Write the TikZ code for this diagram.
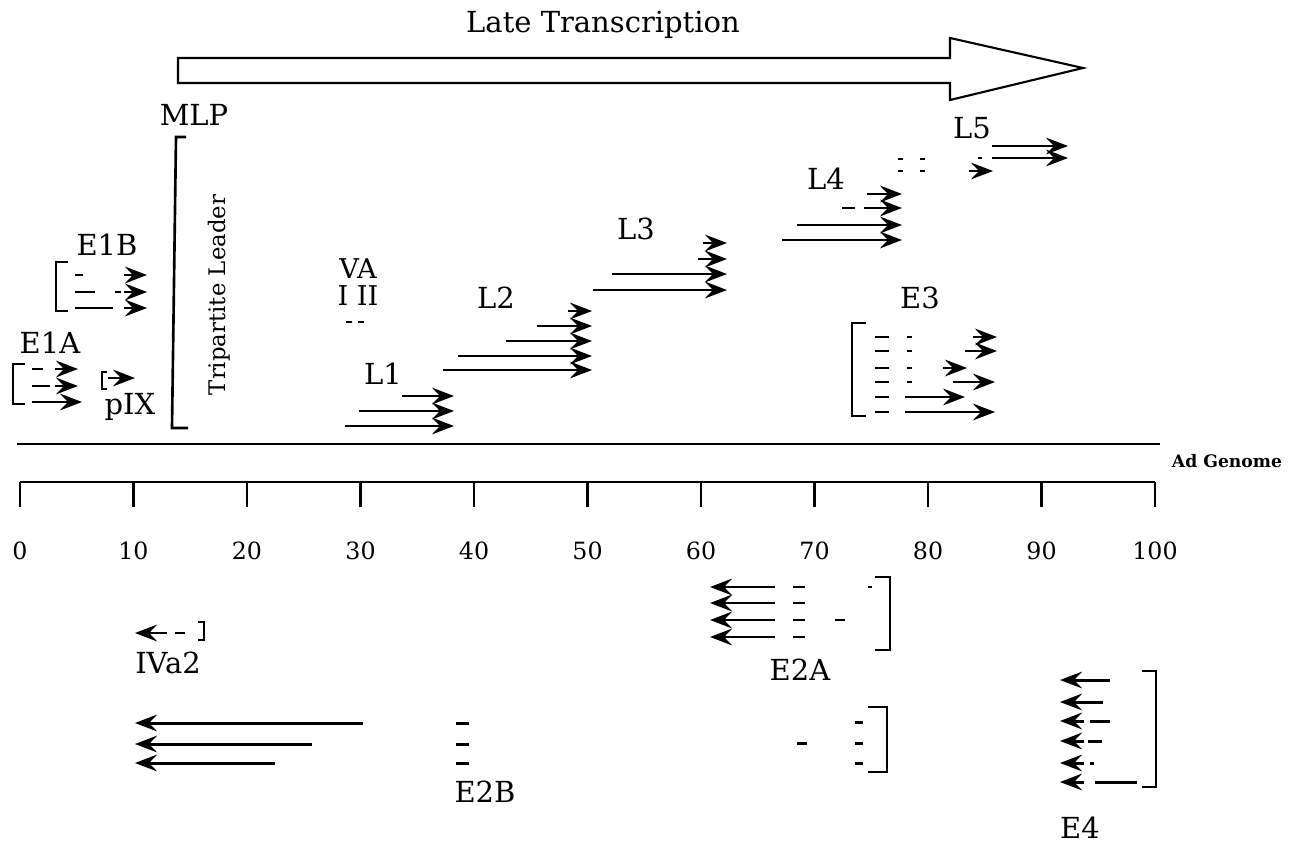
\documentclass[tikz,border=0pt]{standalone}
\usepackage{fontspec}
\setmainfont{DejaVu Serif}
\usetikzlibrary{arrows.meta, positioning}

\begin{document}
\begin{tikzpicture}[x=0.02cm, y=-0.02cm,
    lbl/.style={font=\fontsize{16.5}{19}\selectfont, inner sep=0pt},
    rna/.style={line width=1.7pt, -{Stealth[length=12.5pt, width=9.5pt, inset=4.5pt]}},
    lrna/.style={line width=1.7pt, {Stealth[length=12.5pt, width=9.5pt, inset=4.5pt]}-},
    seg/.style={line width=1.7pt},
    brk/.style={line width=1.5pt},
]
\useasboundingbox (0,0) rectangle (1300,844);

% Late transcription arrow
\draw[line width=1.2pt] (178,58) -- (950,58) -- (950,38) -- (1083,68) -- (950,100) -- (950,83) -- (178,83) -- cycle;
\node[lbl] (late) at (603,25) {Late Transcription};

% MLP and tripartite leader
\node[lbl] (mlp) at (194,115) {MLP};
\draw[brk] (186,137) -- (176,137) -- (172,428) -- (188,428);
\node[lbl, rotate=90, font=\fontsize{13}{15}\selectfont] (tpl) at (219,295) {Tripartite Leader};

% E1B
\node[lbl] (e1b) at (107,245) {E1B};
\draw[brk] (68,262) -- (56,262) -- (56,311) -- (68,311);
\draw[seg] (75,275) -- (83,275);
\draw[seg] (75,292) -- (95,292) (115,292) -- (121,292);
\draw[seg] (75,308) -- (113,308);
\foreach \y in {275,292,308}
    \draw[rna] (124,\y) -- (147,\y);

% E1A
\node[lbl] (e1a) at (50,343) {E1A};
\draw[brk] (25,364) -- (13,364) -- (13,404) -- (25,404);
\draw[seg] (32,369) -- (43,369);
\draw[seg] (32,386) -- (50,386);
\draw[rna] (55,369) -- (78,369);
\draw[rna] (55,386) -- (78,386);
\draw[rna] (32,402) -- (82,402);

% pIX
\draw[brk] (107,372) -- (102,372) -- (102,389) -- (107,389);
\draw[rna] (108,378) -- (135,378);
\node[lbl] (pix) at (130,407) {pIX};

% VA RNA
\node[lbl, font=\fontsize{15.5}{17}\selectfont] (va) at (358,269) {VA};
\node[lbl, font=\fontsize{15.5}{17}\selectfont] (va12) at (358,296) {I II};
\draw[seg] (346,322) -- (352,322) (358,322) -- (364,322);

% L1
\node[lbl] (l1) at (383,374) {L1};
\draw[rna] (402,396) -- (454,396);
\draw[rna] (359,411) -- (454,411);
\draw[rna] (345,426) -- (454,426);

% L2
\node[lbl] (l2) at (496,298) {L2};
\draw[rna] (568,311) -- (592,311);
\draw[rna] (537,326) -- (592,326);
\draw[rna] (506,341) -- (592,341);
\draw[rna] (458,356) -- (592,356);
\draw[rna] (443,370) -- (592,370);

% L3
\node[lbl] (l3) at (636,229) {L3};
\draw[rna] (703,243) -- (727,243);
\draw[rna] (698,259) -- (727,259);
\draw[rna] (612,274) -- (727,274);
\draw[rna] (593,290) -- (727,290);

% L4
\node[lbl] (l4) at (826,179) {L4};
\foreach \x in {900,922}
    \foreach \y in {159,171}
        \draw[seg] (\x-2,\y) -- (\x+3,\y);
\draw[rna] (867,194) -- (902,194);
\draw[seg] (842,208) -- (855,208);
\draw[rna] (864,208) -- (902,208);
\draw[rna] (797,225) -- (902,225);
\draw[rna] (782,240) -- (902,240);

% L5
\node[lbl] (l5) at (972,128) {L5};
\draw[rna] (992,146) -- (1068,146);
\draw[seg] (978,158) -- (982,158);
\draw[rna] (992,158) -- (1068,158);
\draw[rna] (969,171) -- (993,171);

% E3
\node[lbl] (e3) at (920,298) {E3};
\draw[brk] (866,323) -- (852,323) -- (852,416) -- (866,416);
\foreach \y in {337,351,368,382,397,412}
    \draw[seg] (875,\y) -- (889,\y);
\foreach \y in {337,351,368,382}
    \draw[seg] (907,\y) -- (912,\y);
\draw[rna] (973,337) -- (997,337);
\draw[rna] (965,351) -- (997,351);
\draw[rna] (943,368) -- (967,368);
\draw[rna] (953,382) -- (995,382);
\draw[rna] (905,397) -- (965,397);
\draw[rna] (905,412) -- (995,412);

% Genome and map units
\draw[line width=1.5pt] (17,444) -- (1160,444);
\node[font=\bfseries\fontsize{9.8}{11}\selectfont] (genome) at (1227,461) {Ad Genome};
\draw[line width=1.5pt] (20,482) -- (1155,482);
\foreach \i in {0,...,10} {
    \pgfmathtruncatemacro\mu{10*\i}
    \draw[line width=1.4pt] (20+113.5*\i,482) -- (20+113.5*\i,507);
    \node[font=\fontsize{13.5}{15}\selectfont] (mu\i) at (20+113.5*\i,551) {\mu};
}

% IVa2
\draw[lrna] (135,633) -- (167,633);
\draw[seg] (175,633) -- (185,633);
\draw[brk] (198,622) -- (204,622) -- (204,640) -- (198,640);
\node[lbl] (iva2) at (168,663) {IVa2};

% E2A
\foreach \y in {587,603,620,637} {
    \draw[lrna] (710,\y) -- (775,\y);
    \draw[seg] (793,\y) -- (805,\y);
}
\draw[seg] (835,620) -- (845,620);
\draw[seg] (868,587) -- (872,587);
\draw[brk] (875,577) -- (890,577) -- (890,650) -- (875,650);
\node[lbl] (e2a) at (800,670) {E2A};

% E2B
\draw[lrna] (135,723) -- (363,723);
\draw[lrna] (135,744) -- (312,744);
\draw[lrna] (135,763) -- (275,763);
\foreach \y in {723,744,763}
    \draw[seg] (456,\y) -- (469,\y);
\draw[seg] (797,743) -- (807,743);
\foreach \y in {722,743,763}
    \draw[seg] (855,\y) -- (863,\y);
\draw[brk] (868,707) -- (887,707) -- (887,772) -- (868,772);
\node[lbl] (e2b) at (485,792) {E2B};

% E4
\draw[lrna] (1060,680) -- (1110,680);
\draw[lrna] (1060,702) -- (1103,702);
\foreach \y in {721,741,763,782}
    \draw[lrna] (1060,\y) -- (1084,\y);
\draw[seg] (1090,721) -- (1110,721);
\draw[seg] (1088,741) -- (1102,741);
\draw[seg] (1090,763) -- (1094,763);
\draw[seg] (1095,782) -- (1137,782);
\draw[brk] (1142,671) -- (1156,671) -- (1156,787) -- (1142,787);
\node[lbl] (e4) at (1080,828) {E4};

\end{tikzpicture}
\end{document}
